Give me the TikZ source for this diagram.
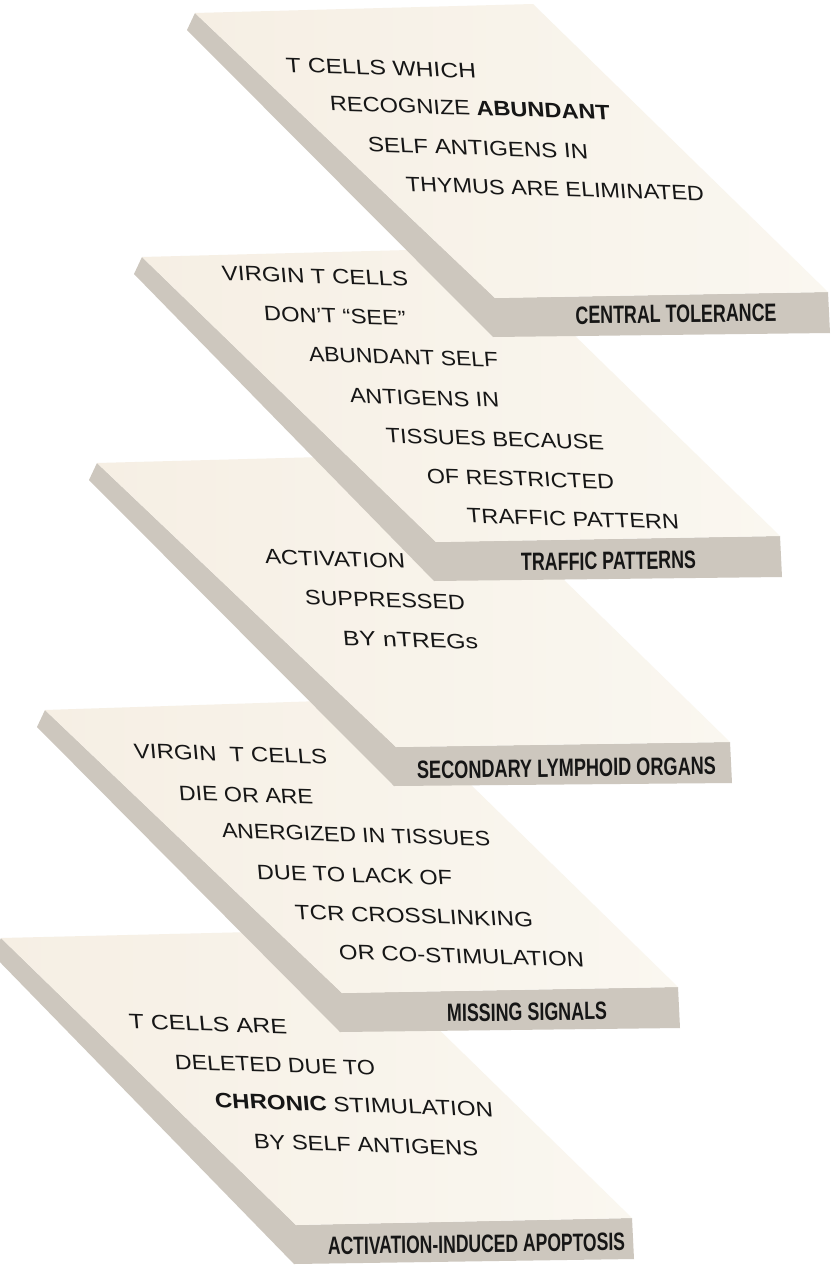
\documentclass[tikz,border=0pt]{standalone}
\usepackage{fontspec}
\setmainfont{Liberation Sans}
\usepackage{graphicx}
\definecolor{topc}{RGB}{246,239,228}
\definecolor{topl}{RGB}{250,247,240}
\definecolor{sidec}{RGB}{205,199,190}
\definecolor{ink}{RGB}{22,22,22}
\tikzset{
  topface/.style={left color=topc, middle color=topc, right color=topl, draw=none},
  sideface/.style={fill=sidec, draw=none},
  bodytext/.style={inner sep=0pt, text=ink, rotate=-1.8, xslant=-0.12},
  labeltext/.style={inner sep=0pt, text=ink, rotate=0.8, font=\bfseries},
}
% BLx BLy BRx BRy FRx FRy FLx FLy
\newcommand\slabdraw[8]{%
  \fill[sideface] (#1,#2) -- (#7,#8) -- (#5,#6) -- ({#5+2},{#6+41}) -- ({#7-2},{#8+39}) -- ({#1-8},{#2+17}) -- cycle;
  \shade[topface] (#1,#2) -- (#3,#4) -- (#5,#6) -- (#7,#8) -- cycle;
}
\newcommand\bline[5]{\node[bodytext] (#1) at (#2,#3) {\resizebox{#4pt}{14.5pt}{#5}};}
\newcommand\flabel[5]{\node[labeltext] (#1) at (#2,#3) {\resizebox{#4pt}{17.5pt}{#5}};}
\begin{document}
\begin{tikzpicture}[x=1pt,y=-1pt]
\fill[white] (0,0) rectangle (838,1272);
\useasboundingbox (0,0) rectangle (838,1272);

% ---- slab 5 : activation-induced apoptosis
\slabdraw{1}{938}{337}{930}{632}{1218}{296}{1225}
\bline{e1}{208}{1024}{158}{T CELLS ARE}
\bline{e2}{275}{1065}{200}{DELETED DUE TO}
\bline{e3}{354}{1105}{278}{\textbf{CHRONIC} STIMULATION}
\bline{e4}{366}{1145}{224}{BY SELF ANTIGENS}
\flabel{e5}{476.5}{1244}{297}{ACTIVATION-INDUCED APOPTOSIS}

% ---- slab 4 : missing signals
\slabdraw{45}{710}{383}{699}{678}{987}{342}{993}
\bline{d1}{230.5}{754}{193}{VIRGIN\ \ T CELLS}
\bline{d2}{246}{795}{134}{DIE OR ARE}
\bline{d3}{356}{835}{268}{ANERGIZED IN TISSUES}
\bline{d4}{354.5}{875}{195}{DUE TO LACK OF}
\bline{d5}{414}{916}{238}{TCR CROSSLINKING}
\bline{d6}{461.5}{956}{245}{OR CO-STIMULATION}
\flabel{d7}{527}{1012}{160}{MISSING SIGNALS}

% ---- slab 3 : secondary lymphoid organs
\slabdraw{97}{463}{435}{454}{730}{742}{396}{747}
\bline{c1}{335}{559}{140}{ACTIVATION}
\bline{c2}{385}{600}{160}{SUPPRESSED}
\bline{c3}{410.5}{640}{135}{BY nTREGs}
\flabel{c4}{566.5}{768}{299}{SECONDARY LYMPHOID ORGANS}

% ---- slab 2 : traffic patterns
\slabdraw{142}{257}{485}{248}{780}{536}{436}{542}
\bline{b1}{315}{276}{186}{VIRGIN T CELLS}
\bline{b2}{335}{316}{142}{DON'T “SEE”}
\bline{b3}{403.5}{357}{189}{ABUNDANT SELF}
\bline{b4}{424.5}{398}{149}{ANTIGENS IN}
\bline{b5}{495}{439}{218}{TISSUES BECAUSE}
\bline{b6}{520.5}{479}{187}{OF RESTRICTED}
\bline{b7}{573}{519}{212}{TRAFFIC PATTERN}
\flabel{b8}{608.5}{561}{175}{TRAFFIC PATTERNS}

% ---- slab 1 : central tolerance
\slabdraw{195}{13}{533}{4}{828}{292}{495}{298}
\bline{a1}{381}{68}{190}{T CELLS WHICH}
\bline{a2}{470}{108}{280}{RECOGNIZE \textbf{ABUNDANT}}
\bline{a3}{478}{148}{220}{SELF ANTIGENS IN}
\bline{a4}{555}{189}{298}{THYMUS ARE ELIMINATED}
\flabel{a5}{676}{314}{201}{CENTRAL TOLERANCE}
\end{tikzpicture}
\end{document}
